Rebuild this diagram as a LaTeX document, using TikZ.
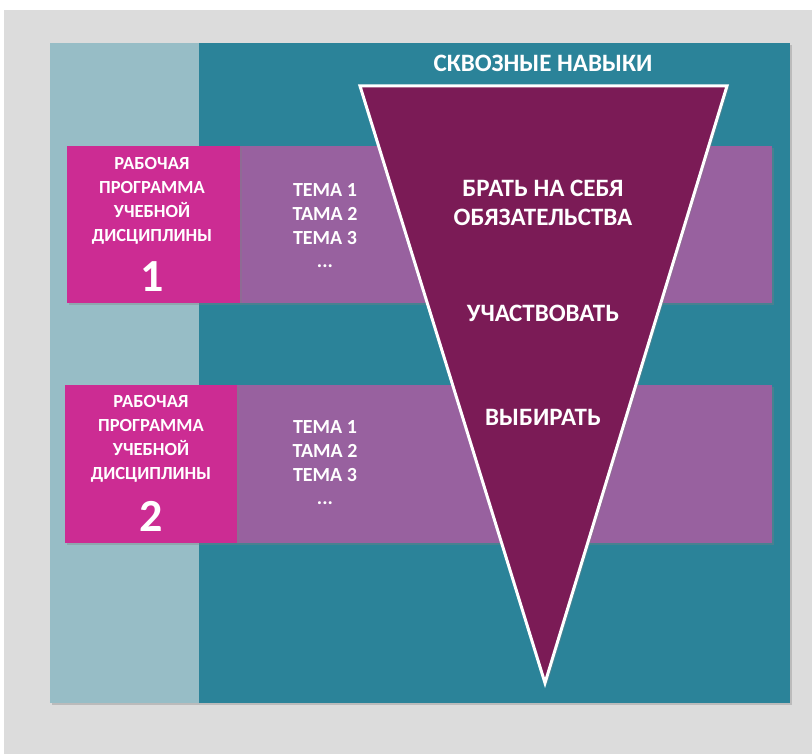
\documentclass[tikz,border=0pt]{standalone}
\usepackage{fontspec}
\setmainfont{Carlito}
\usetikzlibrary{shadows}

\definecolor{fondo}{HTML}{DCDCDC}
\definecolor{tealclaro}{HTML}{97BDC6}
\definecolor{tealoscuro}{HTML}{2B8399}
\definecolor{magenta}{HTML}{CC2C93}
\definecolor{franja}{HTML}{98619F}
\definecolor{embudo}{HTML}{7B1B56}

\tikzset{
  sombra/.style={drop shadow={shadow xshift=2pt,shadow yshift=-2pt,opacity=.35}},
  programa/.style={font=\bfseries\fontsize{18.5}{24}\selectfont,text=white,align=center},
  numero/.style={font=\bfseries\fontsize{46}{46}\selectfont,text=white},
  temas/.style={font=\bfseries\fontsize{20}{23.7}\selectfont,text=white,align=center},
  habilidad/.style={font=\bfseries\fontsize{25}{29}\selectfont,text=white,align=center}
}

\begin{document}
\begin{tikzpicture}[x=1pt,y=-1pt]
		% Fondo
		\useasboundingbox (0,0) rectangle (812,754);
		\fill[white] (0,0) rectangle (812,754);
		\fill[fondo] (4,10) rectangle (812,754);
		
		% Panel principal
		\fill[tealoscuro,sombra] (50,43) rectangle (790,703);
		\fill[tealclaro] (50,43) rectangle (199,703);
		
		% Filas de las disciplinas
		\fill[franja,sombra] (240,146) rectangle (772,303);
		\fill[magenta,sombra] (67,146) rectangle (240,303);
		\fill[franja,sombra] (237,385) rectangle (772,543);
		\fill[magenta,sombra] (65,385) rectangle (237,543);
		
		% Embudo de habilidades
		\filldraw[embudo,draw=white,line width=3pt,sombra] (360,86) -- (727,86) -- (545,683) -- cycle;
		
		% Etiquetas
		\node[habilidad] (titulo) at (543,63) {СКВОЗНЫЕ НАВЫКИ};
		\node[habilidad] (obligaciones) at (543,203) {БРАТЬ НА СЕБЯ\\ОБЯЗАТЕЛЬСТВА};
		\node[habilidad] (participar) at (543,313) {УЧАСТВОВАТЬ};
		\node[habilidad] (elegir) at (543,417) {ВЫБИРАТЬ};
		
		\node[programa] (prog1) at (152,201) {РАБОЧАЯ\\ПРОГРАММА\\УЧЕБНОЙ\\ДИСЦИПЛИНЫ};
		\node[numero] (num1) at (152,277) {1};
		\node[programa] (prog2) at (151,439) {РАБОЧАЯ\\ПРОГРАММА\\УЧЕБНОЙ\\ДИСЦИПЛИНЫ};
		\node[numero] (num2) at (151,516) {2};
		
		\node[temas] (temas1) at (325,226) {ТЕМА 1\\ТАМА 2\\ТЕМА 3\\...};
		\node[temas] (temas2) at (325,463) {ТЕМА 1\\ТАМА 2\\ТЕМА 3\\...};
		
\end{tikzpicture}
\end{document}
